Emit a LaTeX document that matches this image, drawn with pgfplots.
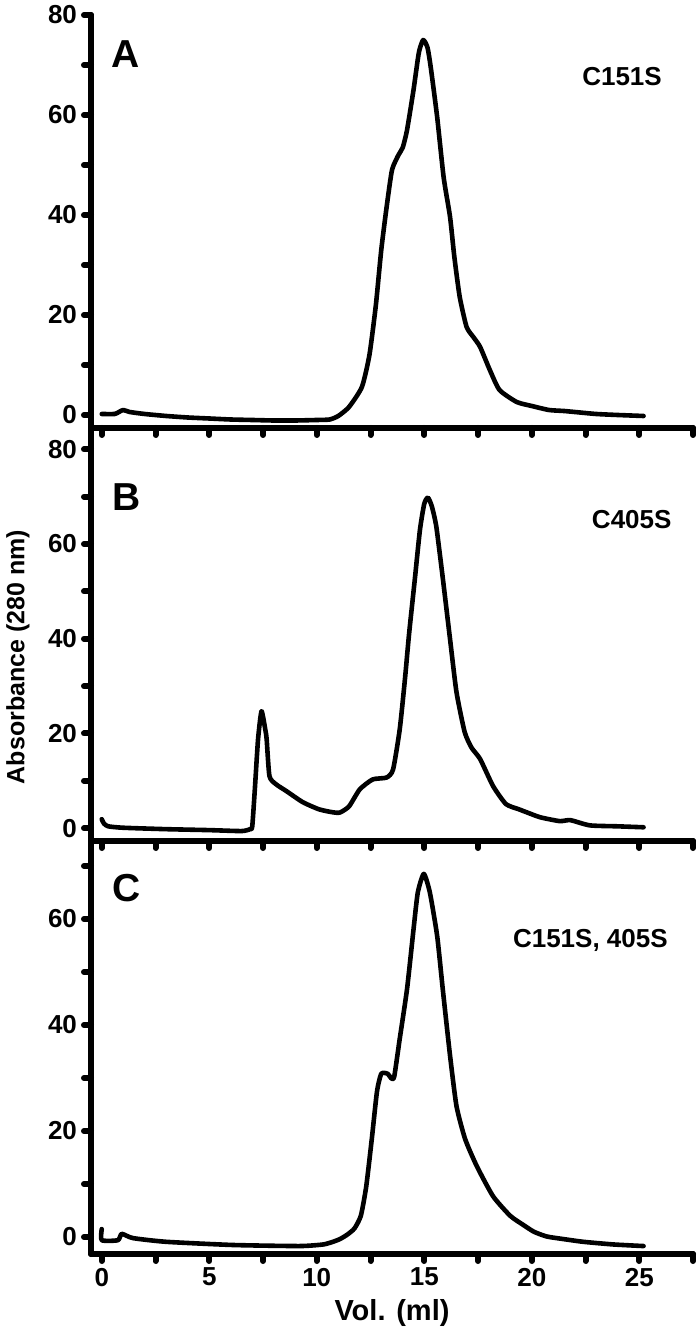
\documentclass[border=0pt]{standalone}
\usepackage{fontspec}
\setmainfont{Liberation Sans}
\usepackage{pgfplots}
\pgfplotsset{compat=1.18}

\pgfplotsset{
  panel/.style={
    scale only axis, width=301pt, height=206.5pt,
    xmin=-0.5, xmax=27.5,
    axis x line*=bottom, axis y line*=left,
    axis line style={line width=3pt, line cap=round},
    tick align=outside,
    xtick={0,5,...,25}, minor xtick={2.5,7.5,...,27.5},
    minor ytick={10,30,50,70},
    major tick length=3.5pt, minor tick length=3.5pt,
    every tick/.style={black, line width=3pt, line cap=round},
    /pgf/number format/assume math mode=true,
    tick label style={font=\fontsize{13}{13}\selectfont\bfseries},
    clip=false,
  },
}
\tikzset{
  trace/.style={black, line width=2.3pt, line join=round, line cap=round, smooth, tension=0.35},
  plab/.style={font=\fontsize{19.5}{19.5}\selectfont\bfseries},
  mlab/.style={font=\fontsize{13}{13}\selectfont\bfseries},
}

\begin{document}
\begin{tikzpicture}
% A: C151S
\begin{axis}[panel, name=A, ymin=-2.6, ymax=80, ytick={0,20,...,80}, xticklabels={}]
\addplot[trace] coordinates {
 (0,0.2)(0.6,0.2)(0.8,0.6)(1.0,1.0)(1.3,0.6)(2,0.2)(3,-0.2)(4,-0.5)(5,-0.7)
 (6,-0.9)(7,-1.0)(8,-1.1)(9,-1.1)(10,-1.0)(10.6,-0.9)(11.0,-0.2)(11.5,1.6)
 (12.1,5.6)(12.45,12)(12.75,22)(13.0,33)(13.25,41.6)(13.5,49)(13.8,52)(14.0,53.5)
 (14.2,57)(14.5,65)(14.75,72.5)(14.95,75)(15.15,73.5)(15.3,69.6)(15.6,59.6)
 (15.9,47.6)(16.2,39.6)(16.4,31.6)(16.65,23.6)(16.97,17.6)(17.3,15.5)(17.6,13.6)
 (18.05,9)(18.5,5)(19.3,2.6)(20,1.8)(20.8,1.0)(21.5,0.8)(22,0.6)(23,0.2)(24,0)(25.2,-0.2)};
\node[plab] at (axis cs:1.12,72.2) {A};
\node[mlab] at (axis cs:24.2,67.6) {C151S};
\end{axis}
% B: C405S
\begin{axis}[panel, name=B, at={(A.south west)}, anchor=north west,
  ymin=-2.7, ymax=84.5, ytick={0,20,...,80}, xticklabels={}]
\addplot[trace] coordinates {
 (0,1.9)(0.1,1.0)(0.3,0.4)(1,0.1)(3,-0.2)(5,-0.4)(6.5,-0.6)(6.9,-0.2)(7.0,0.4)
 (7.12,8.2)(7.27,18.8)(7.43,24.7)(7.6,21)(7.67,18.8)(7.8,11)(8.1,9.3)(8.6,7.8)
 (9.35,5.5)(10.1,4.0)(10.7,3.4)(11.07,3.3)(11.5,4.6)(12.0,8.2)(12.6,10.3)
 (13.25,10.7)(13.55,12.4)(13.86,20.9)(14.1,31.4)(14.3,41.3)(14.56,52.5)(14.8,63)
 (15.0,68.5)(15.17,69.8)(15.35,68)(15.56,63.7)(15.87,52.5)(16.2,39.9)(16.5,28.7)
 (16.88,20.3)(17.2,17)(17.6,14.6)(18.2,8.9)(18.8,5.1)(19.4,4.0)(19.8,3.3)(20.4,2.3)
 (21.3,1.5)(21.8,1.7)(22.7,0.6)(24.0,0.4)(25.2,0.2)};
\node[plab] at (axis cs:1.16,70) {B};
\node[mlab] at (axis cs:24.65,65.2) {C405S};
\end{axis}
% C: C151S, 405S
\begin{axis}[panel, name=C, at={(B.south west)}, anchor=north west,
  ymin=-3.2, ymax=74.7, ytick={0,20,...,60}]
\addplot[trace] coordinates {
 (0,1.5)(0,-0.6)(0.75,-0.6)(0.93,0.6)(1.45,-0.2)(3,-0.9)(6.1,-1.5)(9.2,-1.7)
 (10.3,-1.4)(10.75,-0.9)(11.07,-0.4)(11.4,0.4)(11.75,1.6)(12.05,4.0)(12.3,9.5)(12.56,18.5)
 (12.8,27.4)(13.0,30.8)(13.3,30.8)(13.45,30.0)(13.6,30.2)(13.86,37.4)(14.2,46.8)
 (14.5,58)(14.7,65)(14.98,68.5)(15.26,65)(15.6,56.8)(15.86,46.8)(16.2,34.2)
 (16.5,24.7)(16.9,18.5)(17.44,13.4)(18.2,7.7)(19.0,4)(19.6,2.3)(20.1,1.0)(20.7,0.1)
 (21.5,-0.4)(22.4,-0.9)(23.8,-1.4)(25.2,-1.7)};
\node[plab] at (axis cs:1.16,65.8) {C};
\node[mlab, anchor=west] at (axis cs:18.8,56) {C151S, 405S};
\end{axis}
% shared labels
\node[font=\fontsize{14.5}{14.5}\selectfont\bfseries] at ([shift={(150.5pt,-649pt)}]A.north west) {Vol. (ml)};
\node[font=\fontsize{12.5}{12.5}\selectfont\bfseries, rotate=90] at ([shift={(-36.5pt,-321pt)}]A.north west) {Absorbance (280 nm)};
\pgfresetboundingbox
\path ([shift={(-45.5pt,7.5pt)}]A.north west) rectangle ([shift={(304.5pt,-658pt)}]A.north west);
\end{tikzpicture}
\end{document}
